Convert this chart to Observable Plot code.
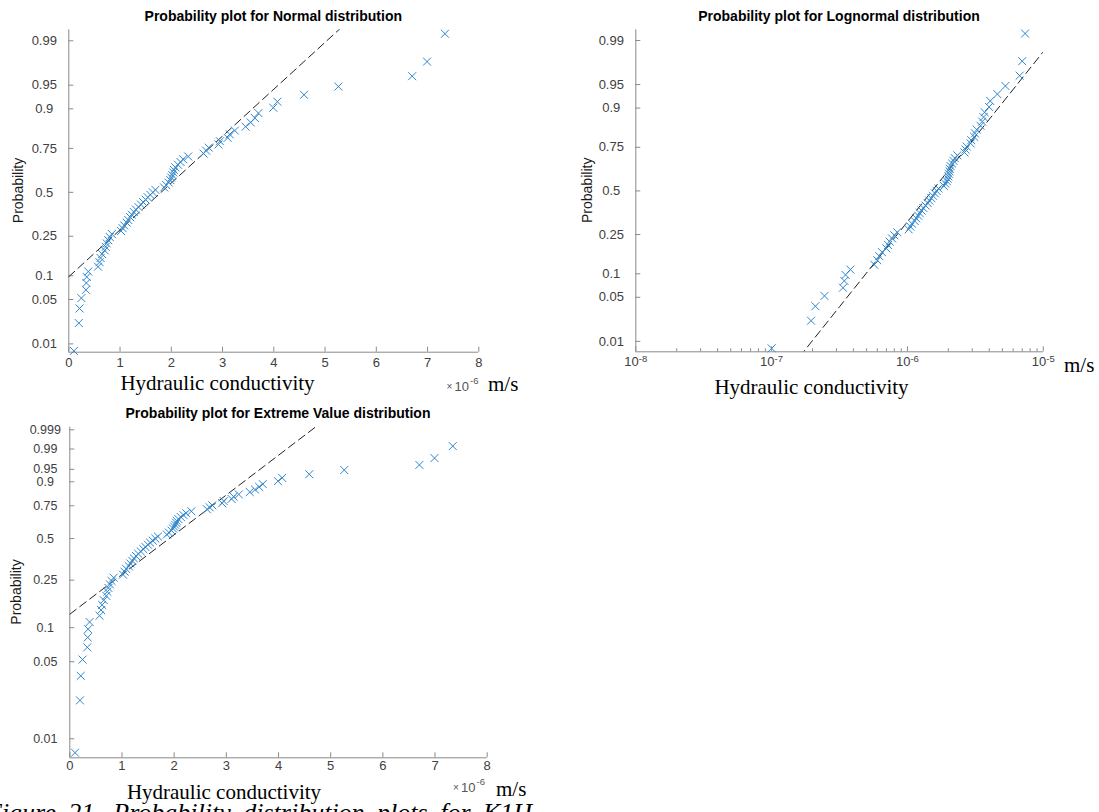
<!DOCTYPE html>
<html>
<head>
<meta charset="utf-8">
<script src="https://cdn.jsdelivr.net/npm/d3@7"></script>
<script src="https://cdn.jsdelivr.net/npm/@observablehq/plot@0.6"></script>
<style>
  html, body { margin: 0; padding: 0; background: #fff; overflow: hidden; }
  #fig { position: relative; width: 1099px; height: 812px; overflow: hidden; background: #fff; }
  #fig svg { position: absolute; left: 0; top: 0; }
</style>
</head>
<body>
<div id="fig"></div>
<script>
// ---------------- DATA ----------------
// Hydraulic conductivity samples (×1e-6 m/s), sorted ascending
const conductivity = [
  0.10, 0.195, 0.21, 0.245, 0.335, 0.343, 0.35, 0.38,
  0.57, 0.60, 0.62, 0.65, 0.70, 0.72, 0.74, 0.77, 0.80, 0.84,
  1.02, 1.05, 1.08, 1.13, 1.16, 1.20, 1.23, 1.27, 1.31, 1.36, 1.41,
  1.45, 1.50, 1.54, 1.59, 1.64, 1.69,
  1.86, 1.90, 1.95, 1.98, 2.00, 2.02, 2.04, 2.05, 2.08, 2.13, 2.18, 2.23, 2.33,
  2.63, 2.68, 2.73, 2.92, 2.95, 3.10, 3.14, 3.24, 3.45, 3.55, 3.63, 3.70,
  3.99, 4.07, 4.59, 5.26, 6.70, 6.99, 7.34
];
// probability axis ticks
const probTicks = [0.01, 0.05, 0.1, 0.25, 0.5, 0.75, 0.9, 0.95, 0.99];
const probTicksEV = [0.01, 0.05, 0.1, 0.25, 0.5, 0.75, 0.9, 0.95, 0.99, 0.999];
// linear x ticks (×1e-6)
const linearTicks = [0, 1, 2, 3, 4, 5, 6, 7, 8];
// log x ticks (exponents of 10)
const logTickExponents = [-8, -7, -6, -5];
// fitted reference lines
const normalFit = { mu: 1.80, sigma: 1.39 };          // ×1e-6 m/s
const lognormalFit = { mu: -5.819, sigma: 0.3803 };   // log10(m/s)
const extremeFit = { mu: 2.34, sigma: 1.19 };         // ×1e-6 m/s

// ---------------- helpers ----------------
function norminv(p) {
  const a = [-3.969683028665376e+01, 2.209460984245205e+02, -2.759285104469687e+02, 1.383577518672690e+02, -3.066479806614716e+01, 2.506628277459239e+00];
  const b = [-5.447609879822406e+01, 1.615858368580409e+02, -1.556989798598866e+02, 6.680131188771972e+01, -1.328068155288572e+01];
  const c = [-7.784894002430293e-03, -3.223964580411365e-01, -2.400758277161838e+00, -2.549732539343734e+00, 4.374664141464968e+00, 2.938163982698783e+00];
  const d = [7.784695709041462e-03, 3.224671290700398e-01, 2.445134137142996e+00, 3.754408661907416e+00];
  const pl = 0.02425, ph = 1 - pl;
  if (p < pl) { const q = Math.sqrt(-2 * Math.log(p)); return (((((c[0]*q+c[1])*q+c[2])*q+c[3])*q+c[4])*q+c[5]) / ((((d[0]*q+d[1])*q+d[2])*q+d[3])*q+1); }
  if (p <= ph) { const q = p - 0.5, r = q*q; return (((((a[0]*r+a[1])*r+a[2])*r+a[3])*r+a[4])*r+a[5])*q / (((((b[0]*r+b[1])*r+b[2])*r+b[3])*r+b[4])*r+1); }
  const q = Math.sqrt(-2 * Math.log(1 - p));
  return -(((((c[0]*q+c[1])*q+c[2])*q+c[3])*q+c[4])*q+c[5]) / ((((d[0]*q+d[1])*q+d[2])*q+d[3])*q+1);
}
const evinv = p => Math.log(-Math.log(1 - p));   // smallest extreme value paper

const n = conductivity.length;
const samples = conductivity.map((K, i) => ({ K, p: (i + 0.5) / n }));

const axisColor = "#8a8a8a";
const tickLabelColor = "#404040";
const markColor = "#2f86cc";
const fitColor = "#222";
const dash = "8,4.5";
const sans = "'Liberation Sans', Arial, Helvetica, sans-serif";
const serif = "'Liberation Serif', 'Times New Roman', serif";

const fig = document.getElementById("fig");
const FW = 1099, FH = 812;

function panel({ x0, x1, y0, y1, x, yDomain, marks }) {
  const svg = Plot.plot({
    width: FW, height: FH,
    marginLeft: x0, marginRight: FW - x1, marginTop: y0, marginBottom: FH - y1,
    x: { ...x, axis: null },
    y: { type: "linear", domain: yDomain, axis: null },
    style: { background: "transparent", overflow: "visible", fontFamily: sans },
    marks
  });
  fig.appendChild(svg);
}

function axisMarks({ W, H, xMin, yMin, xTicks, yTicks, yOf, minorX = [], yFont = 13 }) {
  return [
    Plot.ruleX([xMin], { stroke: axisColor, strokeWidth: 1 }),
    Plot.ruleY([yMin], { stroke: axisColor, strokeWidth: 1 }),
    Plot.ruleX(xTicks, { x: d => d, stroke: axisColor, insetTop: H - 5 }),
    Plot.ruleX(minorX, { x: d => d, stroke: axisColor, insetTop: H - 3 }),
    Plot.ruleY(yTicks, { y: d => yOf(d), stroke: axisColor, insetRight: W - 5 }),
    Plot.text(yTicks, { y: d => yOf(d), text: d => `${d}`, frameAnchor: "left", dx: -24.5, textAnchor: "middle", fontSize: yFont, fill: tickLabelColor })
  ];
}

// ---------------- Panel 1: Normal ----------------
{
  const f = { x0: 68.3, x1: 478.3, y0: 29.3, y1: 351.7 };
  const W = f.x1 - f.x0, H = f.y1 - f.y0;
  panel({
    ...f,
    x: { type: "linear", domain: [0, 8] },
    yDomain: [-2.454, 2.495],
    marks: [
      ...axisMarks({ W, H, xMin: 0, yMin: -2.454, xTicks: linearTicks, yTicks: probTicks, yOf: norminv }),
      Plot.text(linearTicks, { x: d => d, text: d => `${d}`, frameAnchor: "bottom", dy: 14.5, fontSize: 13, fill: tickLabelColor }),
      Plot.line([0, 8], { x: d => d, y: d => (d - normalFit.mu) / normalFit.sigma, stroke: fitColor, strokeWidth: 1, strokeDasharray: dash, clip: true }),
      Plot.dot(samples, { x: "K", y: d => norminv(d.p), symbol: "times", r: 3.7, stroke: markColor, strokeWidth: 1, fill: "none" })
    ]
  });
}

// ---------------- Panel 2: Lognormal ----------------
{
  const f = { x0: 635.3, x1: 1042.8, y0: 29.3, y1: 351.3 };
  const W = f.x1 - f.x0, H = f.y1 - f.y0;
  const majors = logTickExponents.map(e => Math.pow(10, e));
  const minors = [];
  for (const e of [-8, -7, -6]) for (let m = 2; m <= 9; m++) minors.push(m * Math.pow(10, e));
  const w10 = 14.5, wExp = 8.6;
  panel({
    ...f,
    x: { type: "log", domain: [1e-8, 1e-5] },
    yDomain: [-2.488, 2.492],
    marks: [
      ...axisMarks({ W, H, xMin: 1e-8, yMin: -2.488, xTicks: majors, yTicks: probTicks, yOf: norminv, minorX: minors }),
      Plot.text(logTickExponents, { x: e => Math.pow(10, e), text: () => "10", frameAnchor: "bottom", dy: 14.5, dx: -(w10 + wExp) / 2, textAnchor: "start", fontSize: 13, fill: tickLabelColor }),
      Plot.text(logTickExponents, { x: e => Math.pow(10, e), text: e => `${e}`, frameAnchor: "bottom", dy: 10.5, dx: -(w10 + wExp) / 2 + w10, textAnchor: "start", fontSize: 9.5, fill: tickLabelColor }),
      Plot.line(d3.range(-8, -4.99, 0.5), { x: d => Math.pow(10, d), y: d => (d - lognormalFit.mu) / lognormalFit.sigma, stroke: fitColor, strokeWidth: 1, strokeDasharray: dash, clip: true }),
      Plot.dot(samples, { x: d => d.K * 1e-6, y: d => norminv(d.p), symbol: "times", r: 3.7, stroke: markColor, strokeWidth: 1, fill: "none" })
    ]
  });
}

// ---------------- Panel 3: Extreme value ----------------
{
  const f = { x0: 69.3, x1: 486.7, y0: 426.7, y1: 757.3 };
  const W = f.x1 - f.x0, H = f.y1 - f.y0;
  panel({
    ...f,
    x: { type: "linear", domain: [0, 8] },
    yDomain: [-5.002, 1.988],
    marks: [
      ...axisMarks({ W, H, xMin: 0, yMin: -5.002, xTicks: linearTicks, yTicks: probTicksEV, yOf: evinv, yFont: 12.5 }),
      Plot.text(linearTicks, { x: d => d, text: d => `${d}`, frameAnchor: "bottom", dy: 12.2, fontSize: 13, fill: tickLabelColor }),
      Plot.line([0, 8], { x: d => d, y: d => (d - extremeFit.mu) / extremeFit.sigma, stroke: fitColor, strokeWidth: 1, strokeDasharray: dash, clip: true }),
      Plot.dot(samples, { x: "K", y: d => evinv(d.p), symbol: "times", r: 3.7, stroke: markColor, strokeWidth: 1, fill: "none" })
    ]
  });
}

// ---------------- Text layer (titles, labels, caption) ----------------
const t = d3.select(fig).append("svg").attr("width", FW).attr("height", FH)
  .style("overflow", "visible");

function txt(x, y, s, o = {}) {
  const el = t.append("text").attr("x", x).attr("y", y).text(s)
    .attr("font-family", o.family || sans).attr("font-size", o.size || 13)
    .attr("fill", o.fill || "#000").attr("text-anchor", o.anchor || "start");
  if (o.weight) el.attr("font-weight", o.weight);
  if (o.style) el.attr("font-style", o.style);
  if (o.wordSpacing) el.attr("word-spacing", o.wordSpacing);
  if (o.rotate) el.attr("transform", `rotate(-90 ${x} ${y})`);
  return el;
}

// titles
txt(273.3, 21, "Probability plot for Normal distribution", { size: 14, weight: "bold", anchor: "middle" });
txt(839.0, 21, "Probability plot for Lognormal distribution", { size: 14, weight: "bold", anchor: "middle" });
txt(278.0, 418.3, "Probability plot for Extreme Value distribution", { size: 14, weight: "bold", anchor: "middle" });

// y labels
txt(23, 190.5, "Probability", { size: 14, anchor: "middle", rotate: true, fill: "#1a1a1a" });
txt(592, 190.3, "Probability", { size: 14, anchor: "middle", rotate: true, fill: "#1a1a1a" });
txt(21, 592, "Probability", { size: 14, anchor: "middle", rotate: true, fill: "#1a1a1a" });

// x labels
txt(217.5, 390, "Hydraulic conductivity", { family: serif, size: 21, anchor: "middle" });
txt(811.5, 394, "Hydraulic conductivity", { family: serif, size: 21, anchor: "middle" });
txt(224, 798.5, "Hydraulic conductivity", { family: serif, size: 21, anchor: "middle" });

// exponent markers and units
function expMark(x, y) {
  txt(x, y - 1, "×", { size: 10, fill: "#555" });
  txt(x + 8, y, "10", { size: 13, fill: "#555" });
  txt(x + 23.5, y - 7, "-6", { size: 9.5, fill: "#555" });
}
expMark(446.5, 390.5);
txt(488, 390.5, "m/s", { family: serif, size: 21 });
txt(1064, 371.7, "m/s", { family: serif, size: 21 });
expMark(453, 792);
txt(496, 796, "m/s", { family: serif, size: 21 });

// caption (cut off at the bottom edge, as in the source page)
txt(-14, 820.5, "Figure 21. Probability distribution plots for K1H", { family: serif, size: 26, style: "italic", wordSpacing: 6 });
</script>
</body>
</html>
